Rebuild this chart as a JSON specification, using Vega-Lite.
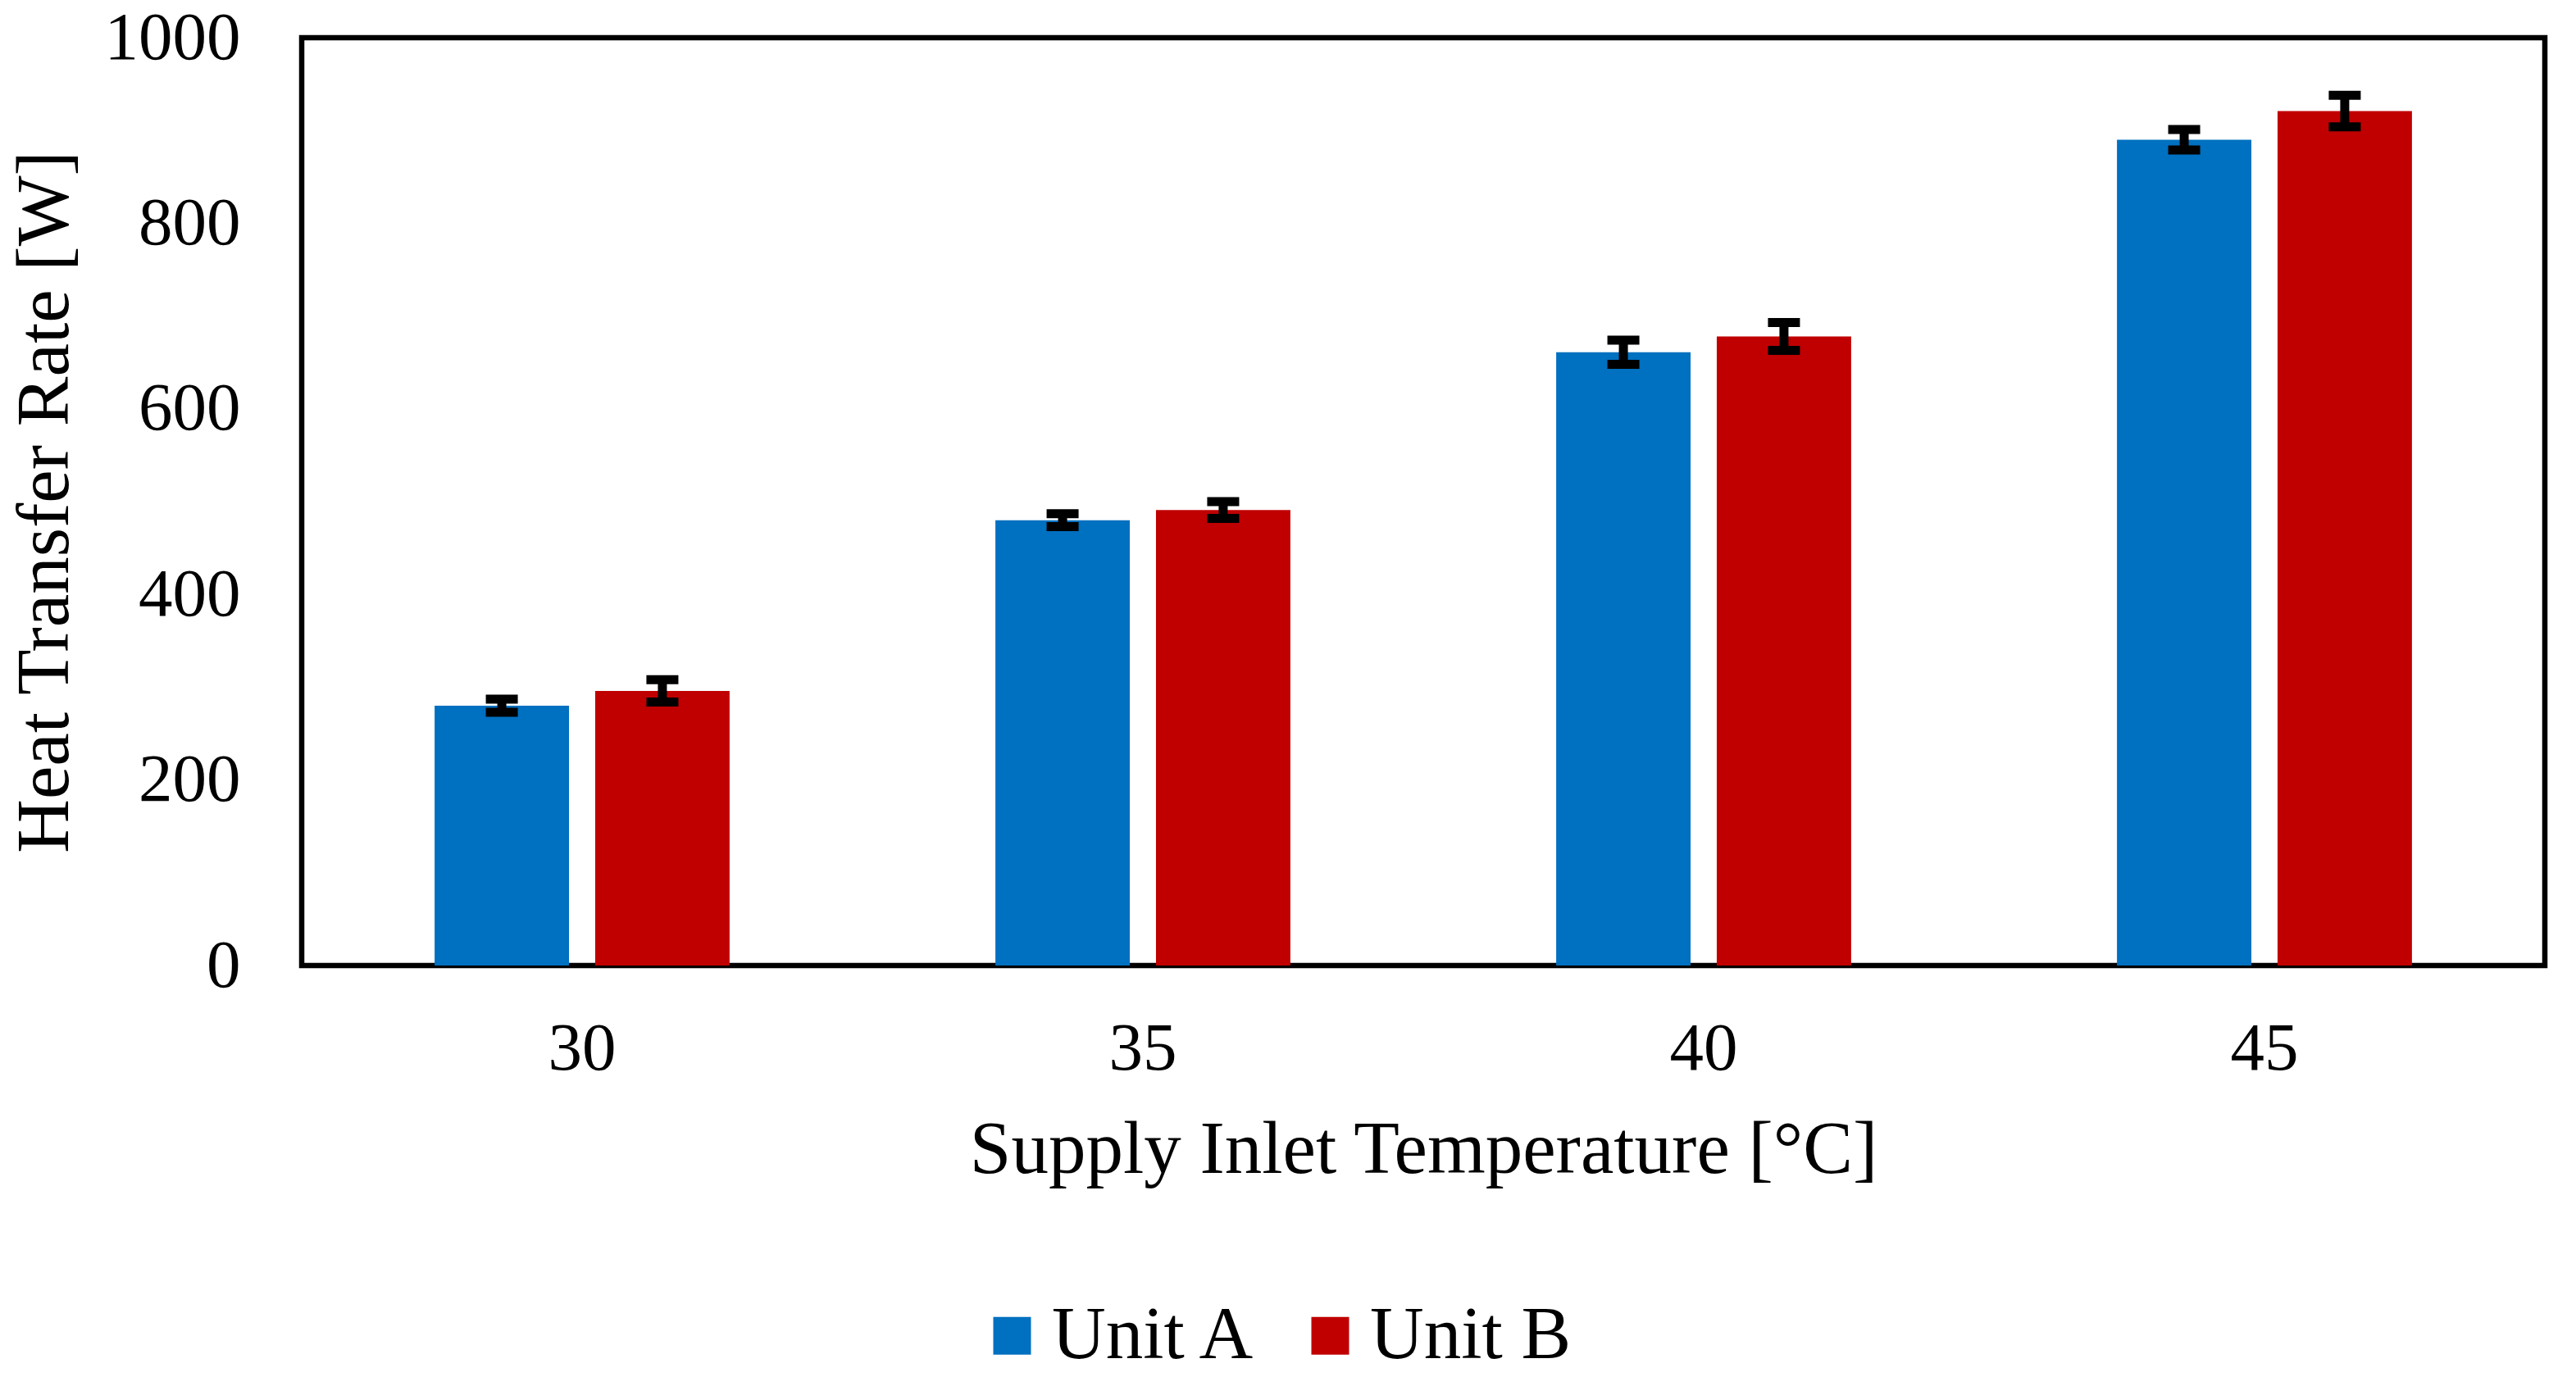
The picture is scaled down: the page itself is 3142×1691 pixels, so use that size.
{
  "$schema": "https://vega.github.io/schema/vega-lite/v6.json",
  "autosize": "none",
  "padding": {"left": 368, "top": 46, "right": 38, "bottom": 513},
  "width": 2736,
  "height": 1132,
  "background": "white",
  "data": {
    "values": [
      {"temp": "30", "unit": "Unit A", "value": 280, "lo": 273, "hi": 287},
      {"temp": "30", "unit": "Unit B", "value": 296, "lo": 284, "hi": 308},
      {"temp": "35", "unit": "Unit A", "value": 480, "lo": 473, "hi": 487},
      {"temp": "35", "unit": "Unit B", "value": 491, "lo": 482, "hi": 500},
      {"temp": "40", "unit": "Unit A", "value": 661, "lo": 648, "hi": 674},
      {"temp": "40", "unit": "Unit B", "value": 678, "lo": 663, "hi": 693},
      {"temp": "45", "unit": "Unit A", "value": 890, "lo": 879, "hi": 901},
      {"temp": "45", "unit": "Unit B", "value": 921, "lo": 904, "hi": 938}
    ]
  },
  "encoding": {
    "x": {
      "field": "temp", "type": "nominal",
      "scale": {"paddingInner": 0.474, "paddingOuter": 0.237},
      "axis": {
        "title": "Supply Inlet Temperature [°C]",
        "labelAngle": 0, "labelPadding": 60,
        "titleBaseline": "alphabetic", "titleY": 252
      }
    },
    "xOffset": {"field": "unit", "type": "nominal", "scale": {"paddingInner": 0.163, "paddingOuter": 0}}
  },
  "layer": [
    {
      "mark": {"type": "bar"},
      "encoding": {
        "y": {
          "field": "value", "type": "quantitative",
          "scale": {"domain": [0, 1000], "nice": false},
          "axis": {
            "title": "Heat Transfer Rate [W]",
            "values": [0, 200, 400, 600, 800, 1000],
            "format": "d",
            "labelPadding": 75,
            "titleX": -286, "titleY": 566, "titleBaseline": "alphabetic", "titleAngle": -90, "titleAlign": "center"
          }
        },
        "color": {
          "field": "unit", "type": "nominal",
          "scale": {"domain": ["Unit A", "Unit B"], "range": ["#0070C0", "#C00000"]},
          "legend": {
            "title": null, "orient": "none", "direction": "horizontal",
            "legendX": 821, "legendY": 1538
          }
        }
      }
    },
    {
      "mark": {"type": "rule", "color": "black", "strokeWidth": 11},
      "encoding": {
        "y": {"field": "lo", "type": "quantitative"},
        "y2": {"field": "hi"}
      }
    },
    {
      "mark": {"type": "tick", "color": "black", "size": 39, "thickness": 11, "opacity": 1},
      "encoding": {"y": {"field": "lo", "type": "quantitative"}}
    },
    {
      "mark": {"type": "tick", "color": "black", "size": 39, "thickness": 11, "opacity": 1},
      "encoding": {"y": {"field": "hi", "type": "quantitative"}}
    }
  ],
  "config": {
    "font": "Liberation Serif",
    "view": {"stroke": "black", "strokeWidth": 6.5},
    "axis": {
      "domain": false, "ticks": false, "tickSize": 0, "grid": false,
      "labelFont": "Liberation Serif", "labelFontSize": 83, "labelColor": "black", "labelLimit": 0,
      "titleFont": "Liberation Serif", "titleFontSize": 91, "titleFontWeight": "normal", "titleColor": "black"
    },
    "legend": {
      "padding": 0, "symbolType": "square", "symbolSize": 2116, "symbolStrokeWidth": 0,
      "labelFont": "Liberation Serif", "labelFontSize": 91, "labelColor": "black",
      "labelOffset": 3, "columnPadding": 43, "labelLimit": 0
    }
  }
}
